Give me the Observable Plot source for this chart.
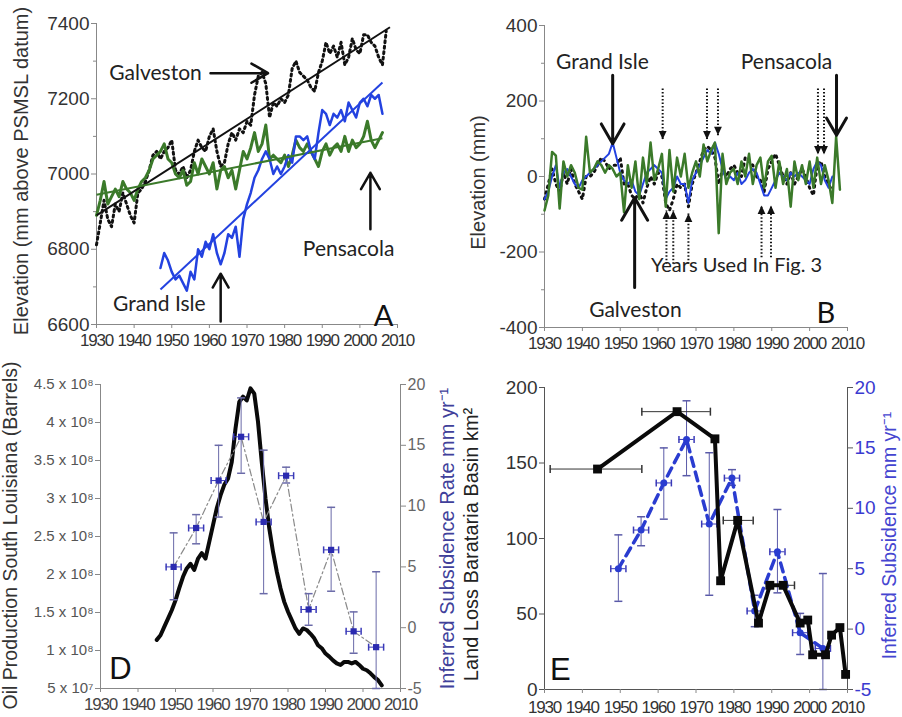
<!DOCTYPE html>
<html><head><meta charset="utf-8">
<script src="https://cdn.jsdelivr.net/npm/d3@7"></script>
<script src="https://cdn.jsdelivr.net/npm/@observablehq/plot@0.6"></script>
<style>
body{margin:0;background:#fff;}
#root{position:relative;width:902px;height:717px;overflow:hidden;background:#fff;}
#root > svg{position:absolute;}
g[aria-label="x-axis tick label"]{letter-spacing:-1.2px;}
</style></head><body><div id="root"></div>
<script>
// ---------- Panel A : tide gauge elevations (mm above PSMSL datum) ----------
const galvestonStartA = 1930;
const galvestonA = [6812,6870,6930,6880,6860,6920,6900,6950,6920,6890,
 6870,6950,6960,6980,7010,7050,7060,7040,7060,7070,
 7090,7010,7000,7020,6990,7010,7060,7090,7070,7060,
 7100,7120,7060,7020,7030,7080,7110,7090,7120,7110,
 7140,7130,7210,7260,7270,7240,7150,7190,7180,7200,
 7190,7210,7280,7300,7270,7260,7250,7230,7220,7270,
 7300,7350,7320,7340,7310,7350,7290,7310,7360,7330,
 7320,7370,7370,7350,7340,7310,7290,7380];
const pensacolaStartA = 1930;
const pensacolaA = [6890,6930,6980,6920,6940,6960,6940,6980,6960,6950,
 6930,6960,6980,6990,7010,7040,7050,7060,7080,7040,
 7030,7000,6990,7010,6970,6980,7030,7000,7040,7020,
 7000,7030,6960,7010,7020,6990,7010,6960,7010,7060,
 7040,7070,7110,7060,7080,7130,7040,7050,7040,7030,
 7050,7020,7050,7090,7070,7060,7080,7060,7040,7020,
 7060,7080,7050,7070,7080,7060,7100,7060,7090,7070,
 7080,7100,7140,7090,7070,7090,7110];
const grandIsleStartA = 1947;
const grandIsleA = [6750,6790,6770,6740,6720,6730,6710,6690,6740,6720,
 6800,6780,6820,6800,6840,6790,6760,6790,6840,6830,
 6860,6780,6880,6920,6950,6990,7010,7040,7060,7040,
 7000,7020,7000,7020,7050,7030,7100,7100,7090,7100,
 7060,7040,7110,7170,7160,7130,7160,7150,7170,7140,
 7190,7170,7150,7190,7200,7180,7210,7200,7210,7160];
const trendStationsA = ["Galveston","Pensacola","Grand Isle"];
const trendStartYearA = [1930, 1930, 1947];
const trendEndYearA = [2008, 2006, 2006];
const trendStartValA = [6890, 6945, 6693];
const trendEndValA = [7390, 7095, 7243];
const yTicksA = [6600, 6800, 7000, 7200, 7400];
const yMinorA = [6700, 6900, 7100, 7300];
const xTicks = [1930,1940,1950,1960,1970,1980,1990,2000,2010];
const labelsA = ["Galveston", "Pensacola", "Grand Isle"];
const labelYearA = [1945.7, 1997, 1946.7];
const labelValA = [7268, 6800, 6653];
const arrowYear1A = [1960.3, 2002.8, 1963];
const arrowVal1A = [7268, 6853, 6608];
const arrowYear2A = [1975.6, 2002.8, 1963];
const arrowVal2A = [7268, 7003, 6735];

// ---------- Panel B : detrended elevations (mm) ----------
const pensacolaStartB = 1930;
const pensacolaB = [-90,-50,65,55,-85,40,0,30,10,-30,
 -35,105,10,20,40,30,10,30,20,0,
 10,-95,30,-30,40,-60,50,-20,90,-10,
 20,60,-80,70,-40,50,0,60,-30,10,
 40,0,85,40,70,90,-150,60,-20,10,
 20,-20,40,0,60,-20,30,50,-30,40,
 55,-30,40,-20,20,-80,40,-10,30,-20,
 40,-30,50,-20,30,-10,-70,105,-35];
const grandIsleStartB = 1930;
const grandIsleB = [-60,-40,0,30,-30,10,20,0,-20,-30,
 -10,0,10,20,30,40,50,60,90,50,
 10,-10,-20,-10,-40,-50,-20,10,20,30,
 20,10,-60,-40,-30,0,-20,-20,-70,-10,
 10,30,50,70,60,90,60,20,-10,0,
 -10,10,-20,-10,10,20,10,-20,-50,-50,
 -30,-10,10,0,-10,10,0,10,0,-10,
 -20,20,40,30,-10,-30,0];
const galvestonStartB = 1930;
const galvestonB = [-60,-20,20,-20,-40,10,-20,20,-20,-40,
 -60,0,0,10,30,50,40,20,30,30,
 50,-20,-20,-50,-60,-40,-70,-30,0,-20,
 10,0,-70,-90,-60,-20,-30,-20,-80,-20,
 10,40,70,80,70,50,-20,20,0,20,
 30,10,0,50,40,30,0,-10,-40,20,
 40,60,30,0,-20,10,-20,0,20,0,
 -30,-50,30,40,0,-20,-40];
const yTicksB = [-400, -200, 0, 200, 400];
const yMinorB = [-300, -100, 100, 300];
const labelsB = ["Grand Isle", "Pensacola", "Galveston"];
const labelYearB = [1945.3, 1993.9, 1954];
const labelValB = [302, 302, -355];
const arrowYearB = [1948, 2007.1, 1953.8];
const arrowVal1B = [268, 268, -294];
const arrowVal2B = [87, 109, -56];
const noteB = "Years Used In Fig. 3";
const noteYearB = 1980.7, noteValB = -236;
const downYearsB = [1961.2, 1972.9, 1975.8, 2002.2, 2003.8];
const downTopB = [233, 233, 233, 233, 233];
const downTipB = [98, 98, 109, 58, 58];
const upYearsB = [1962.2, 1964, 1968, 1987.3, 1989.8];
const upBottomB = [-231, -231, -231, -214, -214];
const upTipB = [-90, -90, -98, -77, -77];

// ---------- Panel D : oil production (barrels) ----------
const oilStartD = 1945;
const oilD = [1.14e8,1.20e8,1.31e8,1.42e8,1.53e8,1.66e8,1.82e8,1.97e8,2.08e8,2.14e8,
 2.06e8,2.21e8,2.28e8,2.21e8,2.43e8,2.65e8,2.87e8,3.04e8,3.18e8,3.26e8,
 3.48e8,3.92e8,4.27e8,4.34e8,4.29e8,4.45e8,4.38e8,4.01e8,3.48e8,3.00e8,
 2.61e8,2.30e8,2.04e8,1.82e8,1.64e8,1.51e8,1.40e8,1.29e8,1.22e8,1.29e8,
 1.27e8,1.22e8,1.16e8,1.07e8,1.03e8,0.96e8,0.92e8,0.87e8,0.83e8,0.81e8,
 0.85e8,0.85e8,0.83e8,0.85e8,0.81e8,0.76e8,0.74e8,0.70e8,0.65e8,0.61e8,0.54e8];
const oilTicks = [5e7,1e8,1.5e8,2e8,2.5e8,3e8,3.5e8,4e8,4.5e8];
const oilTickLabels = ["5 x 10⁷","1 x 10⁸","1.5 x 10⁸","2 x 10⁸","2.5 x 10⁸","3 x 10⁸","3.5 x 10⁸","4 x 10⁸","4.5 x 10⁸"];

// ---------- Inferred subsidence (mm/yr), used in D and E ----------
const subYears = [1949.5, 1955.5, 1961.5, 1967.5, 1973.5, 1979.5, 1985.5, 1991.5, 1997.5, 2003.5];
const subRate  = [5.0, 8.2, 12.1, 15.7, 8.7, 12.5, 1.5, 6.4, -0.3, -1.6];
const subHigh  = [7.8, 9.3, 15.0, 18.9, 14.6, 13.2, 2.8, 9.9, 1.3, 4.6];
const subLow   = [2.3, 6.9, 9.1, 12.7, 2.8, 11.9, 0.2, 3.0, -2.1, -5.0];
const subYearErr = [2, 2, 2, 2, 2, 2, 2, 2, 2, 2];
const subTicks = [-5, 0, 5, 10, 15, 20];

// ---------- Panel E : land loss Barataria Basin (km²) ----------
const lossYears = [1944, 1965, 1975, 1976.5, 1981, 1986.5, 1989.5, 1993, 1997.5, 1999.5, 2000.8, 2004.2, 2005.8, 2008, 2009.5];
const lossKm2   = [146, 184, 166, 72, 112, 44, 69, 69, 44, 46, 23, 23, 36, 41, 10];
const lossErrYear = [1944, 1965, 1981, 1993];
const lossErrVal  = [146, 184, 112, 69];
const lossErrFrom = [1931.5, 1955.7, 1977.2, 1989.5];
const lossErrTo   = [1955.7, 1973.8, 1985.1, 1996];
const yTicksE = [0, 50, 100, 150, 200];

// ---------- styling ----------
const FT = "'Liberation Sans', Arial, Helvetica, sans-serif";
const FA = "Lato, 'Open Sans', sans-serif";
const GREEN = "#3b7a2a", BLUE = "#2342e0", SUBBLUE = "#2b2bb0", AXIS = "#888";
const hCap = {draw(c, size){ const r = Math.sqrt(size/Math.PI); c.moveTo(-r,0); c.lineTo(r,0); }};
const vCap = {draw(c, size){ const r = Math.sqrt(size/Math.PI); c.moveTo(0,-r); c.lineTo(0,r); }};
const triDown = {draw(c, size){ const s = Math.sqrt(size); const w = s*0.55, h = s*1.2; c.moveTo(0,0); c.lineTo(-w,-h); c.lineTo(w,-h); c.closePath(); }};
const triUp = {draw(c, size){ const s = Math.sqrt(size); const w = s*0.55, h = s*1.2; c.moveTo(0,0); c.lineTo(-w,h); c.lineTo(w,h); c.closePath(); }};
const series = (start, vals) => vals.map((v, i) => ({year: start + i, value: v}));
const baseStyle = {background: "transparent", overflow: "visible", fontFamily: FT};
const xAxis = (fill, pad = 5) => Plot.axisX(xTicks, {tickFormat: d => String(d), tickSize: 4, tickPadding: pad, fontSize: 17, fontFamily: FT, fill, stroke: AXIS, label: null});
const root = document.getElementById("root");
function place(svg, left, top){ svg.style.left = left + "px"; svg.style.top = top + "px"; root.appendChild(svg); }

// ---------- A ----------
const trendA = trendStationsA.map((s, i) => ({station: s, x1: trendStartYearA[i], x2: trendEndYearA[i], y1: trendStartValA[i], y2: trendEndValA[i]}));
const trendColor = {"Galveston": "#111", "Pensacola": GREEN, "Grand Isle": BLUE};
const plotA = Plot.plot({
  width: 450, height: 355, marginLeft: 96, marginRight: 53, marginTop: 23, marginBottom: 31,
  style: baseStyle,
  x: {domain: [1930, 2010]}, y: {domain: [6600, 7400]},
  marks: [
    Plot.ruleX([1930], {stroke: AXIS}),
    Plot.ruleY([6600], {stroke: AXIS}),
    Plot.axisY(yTicksA, {tickFormat: d => String(d), tickSize: 5, tickPadding: 2, fontSize: 19, fontFamily: FT, fill: "#333", stroke: AXIS, label: null}),
    Plot.axisY(yMinorA, {tickFormat: () => "", tickSize: 3, stroke: AXIS, label: null}),
    xAxis("#333"),
    Plot.text(["Elevation (mm above PSMSL datum)"], {frameAnchor: "left", textAnchor: "middle", dx: -75, dy: -3, rotate: -90, fontSize: 20, fontFamily: FT, fill: "#333"}),
    Plot.line(series(galvestonStartA, galvestonA), {x: "year", y: "value", stroke: "#111", strokeWidth: 3, strokeDasharray: "2,3.5"}),
    Plot.line(series(pensacolaStartA, pensacolaA), {x: "year", y: "value", stroke: GREEN, strokeWidth: 3}),
    Plot.line(series(grandIsleStartA, grandIsleA), {x: "year", y: "value", stroke: BLUE, strokeWidth: 2.5}),
    Plot.link(trendA, {x1: "x1", y1: "y1", x2: "x2", y2: "y2", stroke: d => trendColor[d.station], strokeWidth: 2}),
    Plot.text(labelsA, {x: (d, i) => labelYearA[i], y: (d, i) => labelValA[i], text: d => d, fontSize: 21, fontFamily: FA, fill: "#222"}),
    Plot.arrow(labelsA, {x1: (d, i) => arrowYear1A[i], y1: (d, i) => arrowVal1A[i], x2: (d, i) => arrowYear2A[i], y2: (d, i) => arrowVal2A[i], stroke: "#111", strokeWidth: 2.5, headLength: 12}),
    Plot.text(["A"], {x: 2006.3, y: 6621, fontSize: 29, fontFamily: FA, fill: "#111"})
  ]
});
place(plotA, 0, 0);

// ---------- B ----------
const downB = downYearsB.map((y, i) => ({year: y, top: downTopB[i], tip: downTipB[i]}));
const upB = upYearsB.map((y, i) => ({year: y, bottom: upBottomB[i], tip: upTipB[i]}));
const plotB = Plot.plot({
  width: 452, height: 355, marginLeft: 94, marginRight: 55, marginTop: 25, marginBottom: 28,
  style: baseStyle,
  x: {domain: [1930, 2010]}, y: {domain: [-400, 400]},
  marks: [
    Plot.ruleX([1930], {stroke: AXIS}),
    Plot.ruleY([-400], {stroke: AXIS}),
    Plot.axisY(yTicksB, {tickFormat: d => String(d), tickSize: 5, tickPadding: 2, fontSize: 19, fontFamily: FT, fill: "#333", stroke: AXIS, label: null}),
    Plot.axisY(yMinorB, {tickFormat: () => "", tickSize: 3, stroke: AXIS, label: null}),
    xAxis("#333"),
    Plot.text(["Elevation (mm)"], {frameAnchor: "left", textAnchor: "middle", dx: -66, dy: 6, rotate: -90, fontSize: 20, fontFamily: FT, fill: "#333"}),
    Plot.line(series(galvestonStartB, galvestonB), {x: "year", y: "value", stroke: "#111", strokeWidth: 3, strokeDasharray: "1.5,4.5"}),
    Plot.line(series(grandIsleStartB, grandIsleB), {x: "year", y: "value", stroke: BLUE, strokeWidth: 2}),
    Plot.line(series(pensacolaStartB, pensacolaB), {x: "year", y: "value", stroke: GREEN, strokeWidth: 2.5}),
    Plot.text(labelsB, {x: (d, i) => labelYearB[i], y: (d, i) => labelValB[i], text: d => d, fontSize: 21, fontFamily: FA, fill: "#222"}),
    Plot.arrow(labelsB, {x1: (d, i) => arrowYearB[i], y1: (d, i) => arrowVal1B[i], x2: (d, i) => arrowYearB[i], y2: (d, i) => arrowVal2B[i], stroke: "#111", strokeWidth: 3, headLength: 13}),
    Plot.link(downB, {x1: "year", x2: "year", y1: "top", y2: "tip", stroke: "#111", strokeWidth: 2, strokeDasharray: "1.5,2"}),
    Plot.dot(downB, {x: "year", y: "tip", symbol: triDown, r: 4, fill: "#111", stroke: "none"}),
    Plot.link(upB, {x1: "year", x2: "year", y1: "bottom", y2: "tip", stroke: "#111", strokeWidth: 2, strokeDasharray: "1.5,2"}),
    Plot.dot(upB, {x: "year", y: "tip", symbol: triUp, r: 4, fill: "#111", stroke: "none"}),
    Plot.text([noteB], {x: noteYearB, y: noteValB, fontSize: 20, fontFamily: FA, fill: "#222"}),
    Plot.text(["B"], {x: 2004.3, y: -363, fontSize: 29, fontFamily: FA, fill: "#111"})
  ]
});
place(plotB, 450, 0);

// ---------- D ----------
const oilData = series(oilStartD, oilD);
const sub = subYears.map((y, i) => ({year: y, rate: subRate[i], hi: subHigh[i], lo: subLow[i], x1: y - subYearErr[i], x2: y + subYearErr[i]}));
const plotD1 = Plot.plot({
  width: 450, height: 362, marginLeft: 100, marginRight: 50, marginTop: 29, marginBottom: 29,
  style: baseStyle,
  x: {domain: [1930, 2010]}, y: {domain: [5e7, 4.5e8]},
  marks: [
    Plot.ruleX([1930], {stroke: AXIS}),
    Plot.ruleY([5e7], {stroke: AXIS}),
    Plot.axisY(oilTicks, {tickFormat: d => oilTickLabels[oilTicks.indexOf(d)], tickSize: 5, tickPadding: 2, fontSize: 15, fontFamily: FT, fill: "#555", stroke: AXIS, label: null}),
    xAxis("#444"),
    Plot.text(["Oil Production South Louisiana (Barrels)"], {frameAnchor: "left", textAnchor: "middle", dx: -90, dy: -1, rotate: -90, fontSize: 19.5, fontFamily: FT, fill: "#333"}),
    Plot.line(oilData, {x: "year", y: "value", stroke: "#0a0a0a", strokeWidth: 4}),
    Plot.text(["D"], {x: 1935.3, y: 7.6e7, fontSize: 31, fontFamily: FT, fill: "#111"})
  ]
});
place(plotD1, 0, 355);
const plotD2 = Plot.plot({
  width: 450, height: 362, marginLeft: 100, marginRight: 50, marginTop: 29, marginBottom: 29,
  style: baseStyle,
  x: {domain: [1930, 2010], axis: null}, y: {domain: [-5, 20], axis: null},
  marks: [
    Plot.ruleX([2010], {stroke: AXIS}),
    Plot.axisY(subTicks, {anchor: "right", tickFormat: d => String(d), tickSize: 5, tickPadding: 2, fontSize: 16, fontFamily: FT, fill: "#666", stroke: AXIS, label: null}),
    Plot.line(sub, {x: "year", y: "rate", stroke: "#8a8a8a", strokeWidth: 1.2, strokeDasharray: "7,3,2,3"}),
    Plot.ruleX(sub, {x: "year", y1: "lo", y2: "hi", stroke: "#6a6aa8", strokeWidth: 1}),
    Plot.dot(sub, {x: "year", y: "hi", symbol: hCap, r: 4, stroke: "#6a6aa8", fill: "none"}),
    Plot.dot(sub, {x: "year", y: "lo", symbol: hCap, r: 4, stroke: "#6a6aa8", fill: "none"}),
    Plot.ruleY(sub, {y: "rate", x1: "x1", x2: "x2", stroke: "#3a3ab8", strokeWidth: 1}),
    Plot.dot(sub, {x: "x1", y: "rate", symbol: vCap, r: 3.5, stroke: "#3a3ab8", fill: "none"}),
    Plot.dot(sub, {x: "x2", y: "rate", symbol: vCap, r: 3.5, stroke: "#3a3ab8", fill: "none"}),
    Plot.dot(sub, {x: "year", y: "rate", symbol: "square", r: 3.5, fill: SUBBLUE, stroke: "none"})
  ]
});
place(plotD2, 0, 355);

// ---------- E ----------
const loss = lossYears.map((y, i) => ({year: y, km2: lossKm2[i]}));
const lossErr = lossErrYear.map((y, i) => ({year: y, km2: lossErrVal[i], x1: lossErrFrom[i], x2: lossErrTo[i]}));
const plotE2 = Plot.plot({
  width: 452, height: 362, marginLeft: 94, marginRight: 55, marginTop: 32, marginBottom: 28,
  style: baseStyle,
  x: {domain: [1930, 2010], axis: null}, y: {domain: [-5, 20], axis: null},
  marks: [
    Plot.ruleX([2010], {stroke: "#555"}),
    Plot.axisY(subTicks, {anchor: "right", tickFormat: d => String(d), tickSize: 5, tickPadding: 2, fontSize: 19, fontFamily: FT, fill: "#3a3ad0", stroke: "#555", label: null}),
    Plot.text(["Inferred Subsidence mm yr⁻¹"], {frameAnchor: "right", textAnchor: "middle", dx: 42, dy: -3, rotate: -90, fontSize: 19.5, fontFamily: FT, fill: "#4545d0"}),
    Plot.ruleX(sub, {x: "year", y1: "lo", y2: "hi", stroke: "#5a5aa8", strokeWidth: 1}),
    Plot.dot(sub, {x: "year", y: "hi", symbol: hCap, r: 4, stroke: "#5a5aa8", fill: "none"}),
    Plot.dot(sub, {x: "year", y: "lo", symbol: hCap, r: 4, stroke: "#5a5aa8", fill: "none"}),
    Plot.ruleY(sub, {y: "rate", x1: "x1", x2: "x2", stroke: "#3a3ab8", strokeWidth: 1}),
    Plot.dot(sub, {x: "x1", y: "rate", symbol: vCap, r: 3.5, stroke: "#3a3ab8", fill: "none"}),
    Plot.dot(sub, {x: "x2", y: "rate", symbol: vCap, r: 3.5, stroke: "#3a3ab8", fill: "none"}),
    Plot.line(sub, {x: "year", y: "rate", stroke: "#2a3cd0", strokeWidth: 3.5, strokeDasharray: "9,6"}),
    Plot.dot(sub, {x: "year", y: "rate", r: 3.5, fill: "#2a3cd0", stroke: "none"})
  ]
});
place(plotE2, 450, 355);
const plotE1 = Plot.plot({
  width: 452, height: 362, marginLeft: 94, marginRight: 55, marginTop: 32, marginBottom: 28,
  style: baseStyle,
  x: {domain: [1930, 2010]}, y: {domain: [0, 200]},
  marks: [
    Plot.ruleX([1930], {stroke: "#555"}),
    Plot.ruleY([0], {stroke: "#555"}),
    Plot.axisY(yTicksE, {tickFormat: d => String(d), tickSize: 5, tickPadding: 2, fontSize: 19, fontFamily: FT, fill: "#333", stroke: "#555", label: null}),
    xAxis("#333", 7),
    Plot.text(["Inferred Subsidence Rate mm yr⁻¹"], {frameAnchor: "left", textAnchor: "middle", dx: -97, rotate: -90, fontSize: 20, fontFamily: FT, fill: "#40409a"}),
    Plot.text(["Land Loss Barataria Basin km²"], {frameAnchor: "left", textAnchor: "middle", dx: -73, dy: 6, rotate: -90, fontSize: 20, fontFamily: FT, fill: "#222"}),
    Plot.ruleY(lossErr, {y: "km2", x1: "x1", x2: "x2", stroke: "#333", strokeWidth: 1}),
    Plot.dot(lossErr, {x: "x1", y: "km2", symbol: vCap, r: 4, stroke: "#333", fill: "none"}),
    Plot.dot(lossErr, {x: "x2", y: "km2", symbol: vCap, r: 4, stroke: "#333", fill: "none"}),
    Plot.line(loss, {x: "year", y: "km2", stroke: "#0a0a0a", strokeWidth: 4}),
    Plot.dot(loss, {x: "year", y: "km2", symbol: "square", r: 5, fill: "#0a0a0a", stroke: "none"}),
    Plot.text(["E"], {x: 1934.2, y: 12.6, fontSize: 31, fontFamily: FT, fill: "#111"})
  ]
});
place(plotE1, 450, 355);
</script></body></html>
